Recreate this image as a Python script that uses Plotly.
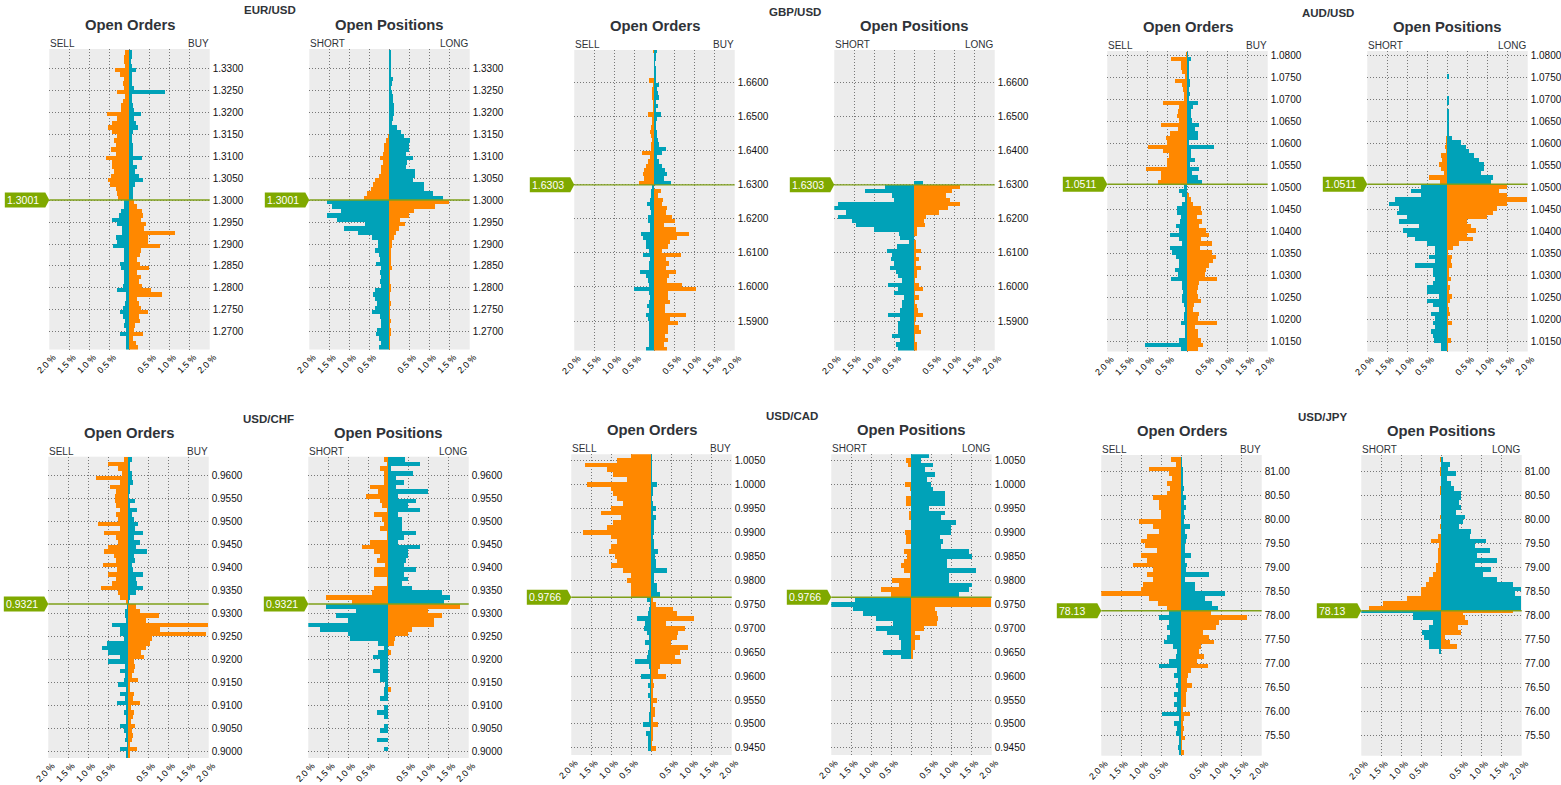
import plotly.graph_objects as go

W, H = 1561, 785
ORANGE, TEAL, GREEN, LINE = "#ff8800", "#00a2b8", "#7fa900", "#7fa01a"
FONT = "Liberation Sans, Arial, sans-serif"
DOTS = "1px,2px"

# ---- values in %, top to bottom of each panel ----
EUR_ORD_L = [.1,.12,.12,.1,.35,.22,.14,.15,.12,.3,.1,.15,.2,.2,.55,.3,.42,.52,.42,.3,.37,.32,.45,.33,.57,.42,.42,.38,.45,.53,.47,.33,.3,.27,
             .12,.12,.2,.25,.42,.3,.18,.17,.34,.3,.4,.14,.13,.12,.22,.2,.14,.12,.12,.15,.3,.08,.07,.1,.15,.22,.15,.1,.14,.08,.22,.08,.08,.08]
EUR_ORD_R = [.06,.07,.05,.06,.18,.08,.06,.07,.13,.9,.08,.06,.1,.12,.3,.12,.16,.22,.1,.07,.08,.1,.1,.1,.32,.1,.2,.15,.25,.35,.15,.1,.1,.1,
             .12,.2,.33,.35,.3,.43,.38,1.13,.48,.48,.77,.3,.28,.2,.28,.5,.2,.3,.25,.33,.55,.83,.2,.25,.3,.46,.25,.28,.15,.12,.35,.1,.18,.22]
EUR_POS_L = [0]*19 + [.03,.08,.12,.12,.15,.24,.15,.2,.2,.25,.35,.4,.45,.55,.62] + \
            [1.55,1.42,1.2,1.55,1.3,.6,1.12,.78,.42,.27,.27,.35,.25,.22,.32,.2,.22,.2,.22,.2,.35,.4,.35,.3,.35,.42,.23,.2,.2,.3,.33,.25,.2,.25]
EUR_POS_R = [.04,.04,.04,.04,.04,.04,.1,.06,.05,.07,.09,.1,.12,.12,.12,.1,.08,.2,.3,.38,.52,.5,.5,.42,.6,.45,.42,.65,.65,.6,.88,.88,1.1,1.33,
             1.5,1.15,.62,.5,.28,.4,.25,.18,.12,.06,.08,.03,.05,.03,.03,.07,.02,.02,.02,.03,.03,.02,.02,.04,.02,.02,.02,.05,.02,.05,.05,.02,.02,.02]

GBP_ORD_L = [.04,0,0,0,0,0,0,.12,.03,.05,.05,.06,.03,.02,.02,.15,.05,.05,.08,.1,.08,.06,.08,.07,.3,.1,.15,.2,.25,.27,.25,.38,
             .06,.08,.08,.1,.17,.1,.08,.15,.15,.1,.1,.32,.28,.2,.2,.12,.28,.1,.13,.14,.35,.2,.15,.13,.5,.12,.1,.12,.17,.12,.2,.15,.12,.14,.12,.13,.14,.12,.2]
GBP_ORD_R = [.07,.05,.03,.02,.05,.04,.03,.05,.12,.07,.1,.13,.05,.1,.05,.18,.07,.05,.05,.07,.06,.1,.12,.3,.2,.08,.12,.2,.28,.33,.25,.42,
             0,.18,.1,.22,.2,.33,.3,.45,.52,.25,.55,.88,.57,.4,.35,.2,.68,.3,.38,.3,.55,.38,.33,.7,1.05,.35,.35,.4,.28,.28,.8,.4,.6,.35,.35,.28,.35,.25,.33]
GBP_POS_L = [0]*32 + [.72,1.22,.55,.5,1.9,2.0,1.7,1.9,1.55,1.45,1.0,.38,.35,.12,.42,.67,.55,.58,.5,.6,.45,.4,.3,.65,.4,.5,.25,.3,.3,.35,.65,.35,.4,.4,.4,.55,.35,.45,.4]
GBP_POS_R = [0]*31 + [.23] + [1.15,.95,.8,.9,1.15,.85,.63,.3,.25,.27,.07,.07,0,.03,.03,.17,.05,.12,.03,.17,.07,.07,.02,.12,.22,.02,.12,.02,.08,.1,.22,.05,.02,.12,.17,.02,.02,.07,.07]

AUD_ORD_L = [.02,.4,.15,.15,.12,.05,.3,.12,.1,.08,.08,.6,.2,.22,.25,.2,.65,.22,.42,.52,.5,.98,.6,.45,.5,.5,1.02,.65,.65,.72,
             .07,.2,.13,.06,.12,.25,.25,.15,.18,.28,.2,.43,.2,.12,.43,.38,.27,.2,.2,.3,.22,.4,.12,.12,.1,.12,.12,.08,.05,.08,.08,.16,.05,.05,.05,.2,1.05,.15]
AUD_ORD_R = [.02,.1,.04,.04,.05,.05,.06,.07,.05,.06,.05,.28,.14,.09,.1,.12,.3,.2,.27,.27,.03,.68,.1,.1,.2,.08,.3,.12,.28,.37,
             0,0,.03,.1,.15,.35,.37,.25,.37,.3,.48,.55,.35,.62,.33,.62,.72,.65,.55,.48,.45,.75,.3,.28,.25,.28,.35,.18,.15,.3,.28,.75,.2,.27,.27,.35,.4,.27]
AUD_POS_L = [0]*19 + [.03,.04,.06,.03,.15,.12,.2,.15,.07,.45,.18] + \
            [.65,.9,.65,1.3,1.45,1.2,1.25,1.0,1.2,.7,1.1,1.0,.8,.5,.3,.3,.45,.3,.8,.35,.35,.3,.35,.5,.5,.2,.5,.35,.2,.4,.3,.35,.3,.4,.35,.32,.15,.15]
AUD_POS_R = [0,0,0,0,0,.04,0,0,0,0,.04,.04,0,.04,.04,.04,.04,.04,.03,.12,.35,.48,.55,.68,.8,.92,.92,.85,1.15,1.08,
             1.5,1.3,1.5,2.0,1.5,1.25,1.15,1.0,.5,.6,.72,.5,.65,.3,.15,.02,.12,.1,.12,.05,.03,.1,.02,.08,.05,.12,.08,.02,.05,.07,.02,.12,.02,.02,.02,.1,.02,.02]

CHF_ORD_L = [.1,.5,.25,.15,.8,.2,.45,.3,.33,.32,.3,.2,.3,.25,.75,.2,.6,.3,.25,.5,.6,.35,.3,.62,.28,.5,.3,.4,.67,.25,.2,.05,
             .02,.07,.07,.06,.4,.2,.2,.1,.52,.65,.5,.2,.5,.08,.2,.08,.1,.25,.05,.2,.08,.28,.05,.1,.06,.05,.2,.1,.05,.08,.03,.2,.06,.06]
CHF_ORD_R = [.1,.05,.03,.1,.1,.12,.03,.03,.02,.18,.05,.22,.1,.15,.25,.18,.38,.15,.3,.2,.48,.15,.18,.1,.12,.38,.2,.22,.38,.2,.05,.02,
             .2,.3,.78,.45,2.0,.8,1.95,.6,.55,.45,.32,.4,.15,.17,.15,.1,.25,.05,.05,.15,.12,.3,.08,.15,.12,.08,.17,.1,.12,.1,.05,.23,.05,.05]
CHF_POS_L = [.1,.03,.2,.1,.1,.1,.45,.25,.55,.2,.15,.03,.35,.15,.1,.2,.03,.03,.45,.65,.35,.2,.27,.07,.35,.35,.03,.03,.35,.4,1.55,.9,
             1.55,.8,1.3,1.0,2.0,1.7,1.0,.95,.25,.1,.25,.37,.2,.2,.37,.2,.2,.08,.1,.1,.2,0,.1,.27,.1,0,.1,.2,0,.28,0,.1,0,0]
CHF_POS_R = [.42,.8,.08,.62,.2,.4,.2,1.0,.25,.7,.5,.8,.25,.35,.35,.35,.7,.4,.25,.8,.5,.5,.45,.4,.7,.4,.5,.35,.6,1.35,1.55,1.4,
             1.78,1.0,1.33,1.15,1.15,.6,.5,.18,.15,0,.07,0,0,0,0,0,0,0,.08]

CAD_ORD_L = [.5,.85,1.65,1.1,.95,.6,1.6,1.0,.95,.85,.7,1.0,1.25,.75,.95,1.1,1.7,1.0,.85,1.0,1.05,.9,.85,1.0,.7,.5,.6,.5,.5,.5,
             .1,.02,.06,.07,.35,.15,.17,.1,.06,.15,.06,.08,.1,.4,.05,.02,.25,.02,.08,.02,.07,.03,.02,.02,.05,.05,.2,.03,.12,.07,.07,.07,0]
CAD_ORD_R = [.01,.02,.02,.02,.02,.02,.15,.03,.04,.02,.03,.12,.03,.12,.08,.08,.07,.03,.06,.06,.18,.1,.12,.12,.4,.08,.08,.15,.15,.22,
             .05,.12,.55,.65,1.07,.38,.85,.68,.65,.5,.92,.72,.6,.75,.22,.18,.37,.05,.07,.03,.03,.15,.03,.1,.1,.04,.17,.05,.05,.03,.02,.12,0]
CAD_POS_L = [0,.12,.07,0,0,0,.15,.03,0,.12,.12,0,.05,.05,0,0,.15,.12,.12,0,.17,.1,.17,.25,.17,.03,.47,.3,.75,.5,
             1.4,2.0,1.45,1.2,.87,.45,.87,.6,.3,.25,.25,.7,.25]
CAD_POS_R = [.45,.25,.55,.35,.6,.4,.5,.55,.85,.85,.85,.45,.85,.75,1.12,1.0,1.0,.72,.8,.75,1.45,1.52,.9,.9,1.62,.95,.95,1.52,1.45,1.2,
             2.0,2.0,.6,.65,.68,.65,.33,.1,.22,.1,.1,.05,.03]

JPY_ORD_L = [.25,.12,.8,.3,.22,.35,.28,.35,.7,.55,.55,.5,.5,1.05,.7,.55,.85,1.0,.9,.6,1.0,.85,1.2,.7,.85,.7,.95,1.0,2.0,.8,.58,.35,
             .3,.55,.3,.35,.27,.35,.43,.2,.1,.12,.3,.55,.1,.17,.08,.14,.07,.17,.1,.17,.1,.47,.05,.17,.1,.12,.05,.06,.07,.05]
JPY_ORD_R = [.01,.02,.03,.04,.03,.05,.07,.05,.13,.07,.12,.08,.1,.06,.22,.1,.15,.12,.1,.1,.25,.1,.15,.12,.7,.1,.35,.35,1.1,.6,.77,.92,
             .75,1.65,.95,.88,.55,.7,.83,.5,.45,.58,.4,.68,.25,.18,.15,.26,.15,.13,.13,.12,.05,.22,.08,.05,.08,.05,.1,.02,.02,.08]
JPY_POS_L = [.04,0,.03,.03,0,0,.04,.04,0,0,0,0,.03,0,.03,0,.08,.25,.05,.08,.08,.07,.12,.13,.2,.3,.37,.5,.5,.85,1.45,1.8,
             .7,.7,.2,.3,.48,.43,.3,.3,.05]
JPY_POS_R = [.05,.22,.18,.38,.15,.25,.32,.5,.5,.45,.5,.38,.6,.55,.45,.75,.72,1.12,.85,1.22,.9,1.4,.85,1.25,1.05,1.4,1.8,2.0,1.85,2.0,2.0,2.0,
             .55,.6,.67,.42,.5,.1,.22,.4]
# the single thin level just under the USD/JPY price in the positions panel
JPY_SPIKE_LEVEL = [78.07]
JPY_SPIKE_L = [-2.0]
JPY_SPIKE_R = [1.8]

# ---- axis labels ----
X_TICKS = [-2, -1.5, -1, -.5, 0, .5, 1, 1.5, 2]
X_LABELS = ["2.0\u2009%", "1.5\u2009%", "1.0\u2009%", "0.5\u2009%", "", "0.5\u2009%", "1.0\u2009%", "1.5\u2009%", "2.0\u2009%"]
EUR_TICKS = [1.27, 1.275, 1.28, 1.285, 1.29, 1.295, 1.30, 1.305, 1.31, 1.315, 1.32, 1.325, 1.33]
GBP_TICKS = [1.59, 1.60, 1.61, 1.62, 1.63, 1.64, 1.65, 1.66]
AUD_TICKS = [1.015, 1.02, 1.025, 1.03, 1.035, 1.04, 1.045, 1.05, 1.055, 1.06, 1.065, 1.07, 1.075, 1.08]
CHF_TICKS = [.90, .905, .91, .915, .92, .925, .93, .935, .94, .945, .95, .955, .96]
CAD_TICKS = [.945, .95, .955, .96, .965, .97, .975, .98, .985, .99, .995, 1.0, 1.005]
JPY_TICKS = [75.5, 76, 76.5, 77, 77.5, 78, 78.5, 79, 79.5, 80, 80.5, 81]

# name, price label, price line, bin, bins above, y range, ticks, fmt, arrays, pixel frame, label pos
PAIRS = [
 ("EUR/USD", "1.3001", 1.3000, .001, 34, (1.26602, 1.33432), EUR_TICKS, "%.4f",
  (EUR_ORD_L, EUR_ORD_R, EUR_POS_L, EUR_POS_R), (49.3, 309.3), (49, 349.5), (269.5, 10), 25, 44),
 ("GBP/USD", "1.6303", 1.6300, .00125, 32, (1.58134, 1.6696), GBP_TICKS, "%.4f",
  (GBP_ORD_L, GBP_ORD_R, GBP_POS_L, GBP_POS_R), (574.3, 834.3), (50, 350.5), (794.5, 12), 26, 45),
 ("AUD/USD", "1.0511", 1.0508, .001, 30, (1.01277, 1.08107), AUD_TICKS, "%.4f",
  (AUD_ORD_L, AUD_ORD_R, AUD_POS_L, AUD_POS_R), (1107.3, 1367.3), (51, 351.5), (1327.5, 13), 27, 45.5),
 ("USD/CHF", "0.9321", .9320, .001, 32, (.89848, .96404), CHF_TICKS, "%.4f",
  (CHF_ORD_L, CHF_ORD_R, CHF_POS_L, CHF_POS_R), (48.3, 308.3), (456.7, 758), (268.5, 419), 433, 451.7),
 ("USD/CAD", "0.9766", .9764, .001, 30, (.94354, 1.00619), CAD_TICKS, "%.4f",
  (CAD_ORD_L, CAD_ORD_R, CAD_POS_L, CAD_POS_R), (571.3, 831.3), (454.3, 755), (791.5, 416), 430, 448.7),
 ("USD/JPY", "78.13", 78.093, .1, 32, (75.075, 81.333), JPY_TICKS, "%.2f",
  (JPY_ORD_L, JPY_ORD_R, JPY_POS_L, JPY_POS_R), (1101.3, 1361.3), (455, 755.7), (1322.5, 417), 431, 449.7),
]
PANEL_W = 160.4


def px(x):
    return x / W


def py(y):
    return 1 - y / H


fig = go.Figure()
shapes, notes = [], []
n = 0


def note(x, y, text, size, anchor="center", bold=False, color="#2f3338"):
    notes.append(dict(xref="paper", yref="paper", x=px(x), y=py(y), text=f"<b>{text}</b>" if bold else text,
                      showarrow=False, xanchor=anchor, yanchor="middle", borderpad=0,
                      font=dict(family=FONT, size=size, color=color)))


for name, label, price, step, n_up, yrange, ticks, fmt, arrays, lefts, (top, bottom), pair_xy, title_y, head_y in PAIRS:
    note(pair_xy[0], pair_xy[1], name, 11.5, bold=True)
    for side in range(2):
        n += 1
        left_vals, right_vals = arrays[2 * side], arrays[2 * side + 1]
        x0 = lefts[side]
        ax = "" if n == 1 else str(n)
        for vals, sign, up_col, low_col in ((left_vals, -1, ORANGE, TEAL), (right_vals, 1, TEAL, ORANGE)):
            levels = [price + step * (n_up - i - .5) for i in range(len(vals))]
            fig.add_trace(go.Bar(
                x=[sign * v for v in vals], y=levels, orientation="h", width=step,
                marker=dict(color=[up_col if i < n_up else low_col for i in range(len(vals))], line_width=0),
                xaxis=f"x{ax}", yaxis=f"y{ax}", showlegend=False, hoverinfo="skip"))
        fig.layout[f"xaxis{ax}"] = dict(
            domain=[px(x0), px(x0 + PANEL_W)], range=[-2, 2], anchor=f"y{ax}", tickvals=X_TICKS, ticktext=X_LABELS,
            tickangle=-45, ticks="", showgrid=True, griddash=DOTS, gridcolor="#777777", gridwidth=1, zeroline=False,
            showline=False, automargin=False, ticklabelshift=4,
            tickfont=dict(family=FONT, size=9, color="#000"), fixedrange=True)
        fig.layout[f"yaxis{ax}"] = dict(
            domain=[py(bottom), py(top)], range=list(yrange), anchor=f"x{ax}", side="right", tickvals=ticks,
            ticktext=[fmt % t for t in ticks], ticks="", showgrid=True, griddash=DOTS, gridcolor="#777777", gridwidth=1,
            zeroline=False, showline=False, automargin=False, ticklabelstandoff=2,
            tickfont=dict(family=FONT, size=10, color="#111"), fixedrange=True)
        # price line
        shapes.append(dict(type="line", xref=f"x{ax} domain", yref=f"y{ax}", x0=0, x1=1, y0=price, y1=price,
                           line=dict(color=LINE, width=1.4), layer="above"))
        # price tag
        yc = top + (yrange[1] - price) / (yrange[1] - yrange[0]) * (bottom - top)
        xl, xr = x0 - 44.5, x0
        path = (f"M {px(xl)} {py(yc - 7.5)} L {px(xr - 4)} {py(yc - 7.5)} L {px(xr)} {py(yc)} "
                f"L {px(xr - 4)} {py(yc + 7.5)} L {px(xl)} {py(yc + 7.5)} Z")
        shapes.append(dict(type="path", xref="paper", yref="paper", path=path, fillcolor=GREEN, line_width=0, layer="above"))
        note(xl + 1, yc, label, 10.5, anchor="left", color="#ffffff")
        # headings
        note(x0 + PANEL_W / 2, title_y, ("Open Orders", "Open Positions")[side], 14.8, bold=True)
        note(x0, head_y, ("SELL", "SHORT")[side], 10, anchor="left")
        note(x0 + PANEL_W, head_y, ("BUY", "LONG")[side], 10, anchor="right")

for spike, col in ((JPY_SPIKE_L, TEAL), (JPY_SPIKE_R, ORANGE)):
    fig.add_trace(go.Bar(x=spike, y=JPY_SPIKE_LEVEL, orientation="h", width=.02, marker=dict(color=col, line_width=0),
                         xaxis="x12", yaxis="y12", showlegend=False, hoverinfo="skip"))

fig.update_layout(width=W, height=H, autosize=False, margin=dict(l=0, r=0, t=0, b=0, autoexpand=False), paper_bgcolor="#ffffff",
                  plot_bgcolor="#ececec", barmode="overlay", bargap=0, shapes=shapes, annotations=notes)
fig.write_html("out.html", config=dict(displayModeBar=False),
               post_script="document.body.style.margin='0';document.documentElement.style.overflow='hidden';")
